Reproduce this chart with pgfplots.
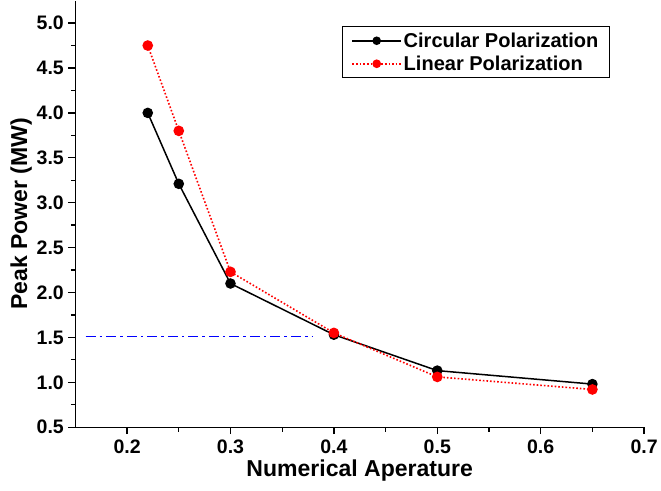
\documentclass[border=0pt]{standalone}
\usepackage{fontspec}
\setmainfont{Liberation Sans}
\usepackage{pgfplots}
\pgfplotsset{compat=1.18}
\begin{document}
\begin{tikzpicture}
\begin{axis}[
  scale only axis,
  width=568pt, height=426pt,
  xmin=0.15, xmax=0.7,
  ymin=0.5, ymax=5.25,
  xtick={0.2,0.3,0.4,0.5,0.6,0.7},
  ytick={0.5,1.0,...,5.0},
  minor x tick num=1,
  minor y tick num=1,
  axis lines*=left,
  axis line style={-, line width=1.3pt},
  tick align=outside,
  tick style={black, line width=1.3pt},
  major tick length=7pt,
  minor tick length=4.5pt,
  /pgf/number format/assume math mode=true,
  /pgf/number format/fixed,
  /pgf/number format/fixed zerofill,
  /pgf/number format/precision=1,
  tick label style={font=\bfseries\fontsize{19.5}{19.5}\selectfont},
  xticklabel style={yshift=-2pt},
  yticklabel style={xshift=-1pt},
  xlabel={Numerical Aperature},
  ylabel={Peak Power (MW)},
  label style={font=\bfseries\fontsize{23}{23}\selectfont},
  xlabel style={yshift=1pt},
  ylabel style={yshift=-2pt},
  legend image code/.code={
    \draw[mark repeat=2, mark phase=2, #1, mark size=3.5pt]
      plot coordinates {(0cm,0cm) (0.85cm,0cm) (1.7cm,0cm)};
  },
  legend style={
    at={(0.94,0.94)}, anchor=north east,
    draw=black, line width=1pt, fill=white,
    font=\bfseries\fontsize{20}{20}\selectfont,
    row sep=3pt, inner xsep=9pt, inner ysep=4pt
  },
  legend cell align=left,
]
  % circular polarization
  \addplot[black, line width=1.5pt, mark=*, mark size=4.5pt,
    mark options={solid, fill=black}] coordinates {
    (0.22, 4.00)
    (0.25, 3.21)
    (0.30, 2.10)
    (0.40, 1.53)
    (0.50, 1.13)
    (0.65, 0.98)
  };
  \addlegendentry{Circular Polarization}

  % linear polarization
  \addplot[red, line width=1.6pt, dotted, mark=*, mark size=4.5pt,
    mark options={solid, fill=red}] coordinates {
    (0.22, 4.75)
    (0.25, 3.80)
    (0.30, 2.23)
    (0.40, 1.55)
    (0.50, 1.06)
    (0.65, 0.92)
  };
  \addlegendentry{Linear Polarization}

  % threshold line
  \addplot[blue, line width=1.8pt, dash pattern=on 10pt off 4pt on 2.5pt off 4pt,
    forget plot] coordinates {
    (0.16, 1.51)
    (0.38, 1.51)
  };
\end{axis}
% a little white margin at the left and bottom, as in the reference
\path (current bounding box.south west) ++(-7pt,-6pt);
\end{tikzpicture}
\end{document}
